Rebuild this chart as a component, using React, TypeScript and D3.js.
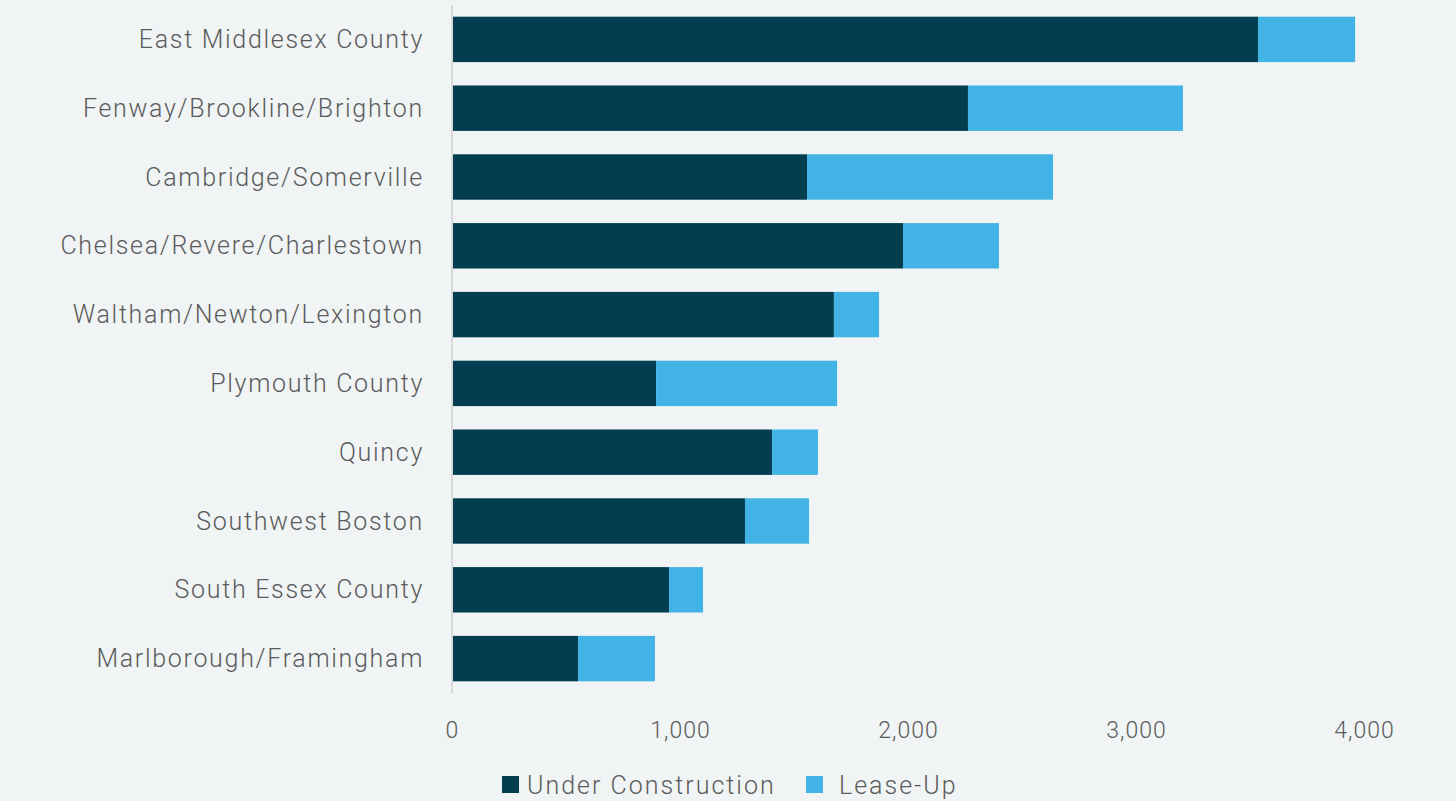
import React from "react";
import * as d3 from "d3";

const categories = [
  "East Middlesex County",
  "Fenway/Brookline/Brighton",
  "Cambridge/Somerville",
  "Chelsea/Revere/Charlestown",
  "Waltham/Newton/Lexington",
  "Plymouth County",
  "Quincy",
  "Southwest Boston",
  "South Essex County",
  "Marlborough/Framingham",
];
const underConstruction = [3535, 2263, 1557, 1978, 1675, 895, 1404, 1285, 952, 553];
const leaseUp = [426, 943, 1079, 421, 198, 794, 201, 281, 149, 337];
const xTicks = [0, 1000, 2000, 3000, 4000];
const seriesNames = ["Under Construction", "Lease-Up"];
const colors = ["#023d50", "#41b4e5"];

const W = 1456;
const H = 801;
const FONT = "Roboto, 'Noto Sans', sans-serif";
const TEXT = "#5b5b5b";

export default function App() {
  const x = d3.scaleLinear().domain([0, 4000]).range([452, 1364]);
  const y = d3
    .scaleBand<string>()
    .domain(categories)
    .range([5, 693])
    .paddingInner(0.34)
    .paddingOuter(0.17);

  const rows = categories.map((c, i) => ({ c, uc: underConstruction[i], lu: leaseUp[i] }));

  return (
    <svg
      width={W}
      height={H}
      style={{ position: "absolute", left: 0, top: 0, background: "#f0f4f5" }}
    >
      <rect x={0} y={0} width={W} height={H} fill="#f0f4f5" />
      {rows.map((r) => (
        <g key={r.c}>
          <rect
            x={x(0)}
            y={y(r.c)}
            width={x(r.uc) - x(0)}
            height={y.bandwidth()}
            fill={colors[0]}
          />
          <rect
            x={x(r.uc)}
            y={y(r.c)}
            width={x(r.uc + r.lu) - x(r.uc)}
            height={y.bandwidth()}
            fill={colors[1]}
          />
          <text
            x={424}
            y={(y(r.c) as number) + y.bandwidth() / 2}
            textAnchor="end"
            dominantBaseline="central"
            fontFamily={FONT}
            fontWeight={300}
            fontSize={25}
            letterSpacing={1.7}
            fill={TEXT}
          >
            {r.c}
          </text>
        </g>
      ))}
      <line x1={x(0)} x2={x(0)} y1={5} y2={693} stroke="#d9d9d9" strokeWidth={2} />
      {xTicks.map((t) => (
        <text
          key={t}
          x={x(t) + 0.5}
          y={730}
          textAnchor="middle"
          dominantBaseline="central"
          fontFamily={FONT}
          fontWeight={300}
          fontSize={23}
          letterSpacing={1}
          fill={TEXT}
        >
          {d3.format(",")(t)}
        </text>
      ))}
      <g>
        <rect x={502} y={776} width={17} height={17} fill={colors[0]} />
        <text x={527} y={785} dominantBaseline="central" fontFamily={FONT} fontWeight={300} fontSize={25} letterSpacing={2} fill={TEXT}>
          {seriesNames[0]}
        </text>
        <rect x={806} y={776} width={17} height={17} fill={colors[1]} />
        <text x={839} y={785} dominantBaseline="central" fontFamily={FONT} fontWeight={300} fontSize={25} letterSpacing={2} fill={TEXT}>
          {seriesNames[1]}
        </text>
      </g>
    </svg>
  );
}
